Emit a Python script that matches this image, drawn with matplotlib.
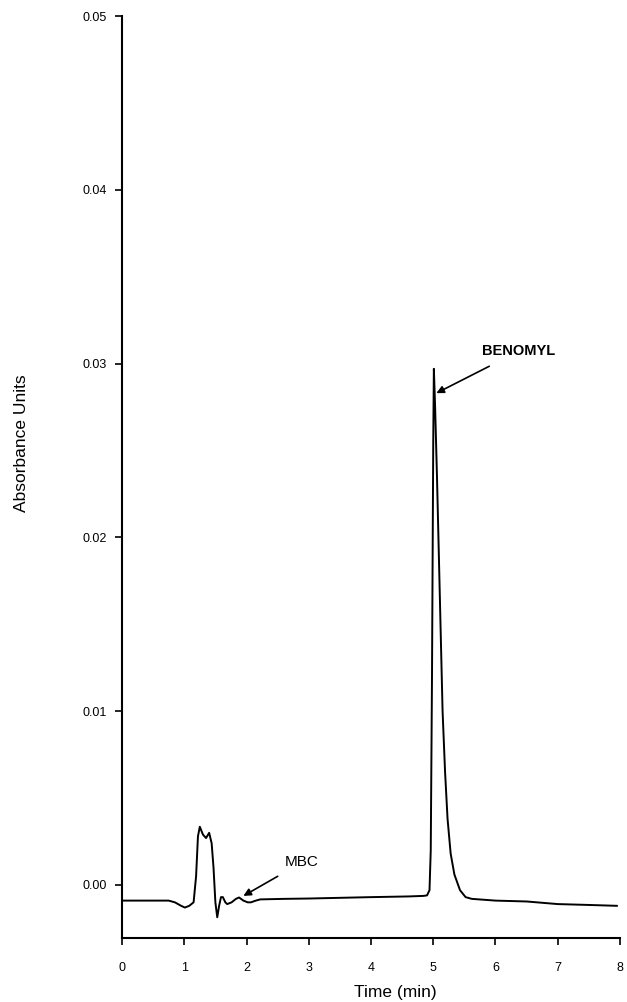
import numpy as np
import matplotlib.pyplot as plt

plt.rcParams['font.family'] = ['Liberation Sans', 'DejaVu Sans']

# chromatogram trace (time in min, absorbance)
time = [0.0, 0.5, 0.75, 0.85, 0.95, 1.01, 1.08, 1.15, 1.19, 1.22, 1.25, 1.30, 1.35,
        1.40, 1.44, 1.47, 1.50, 1.53, 1.56, 1.59, 1.62, 1.66, 1.69, 1.76, 1.83, 1.88,
        1.95, 2.02, 2.07, 2.15, 2.22, 2.6, 3.0, 3.5, 4.0, 4.3, 4.6, 4.84, 4.90, 4.94,
        4.96, 4.98, 5.00, 5.01, 5.03, 5.06, 5.09, 5.12, 5.15, 5.19, 5.23, 5.28, 5.34,
        5.43, 5.52, 5.62, 6.0, 6.5, 7.0, 7.5, 7.95]
absorb = [-0.0009, -0.0009, -0.0009, -0.0010, -0.0012, -0.0013, -0.0012, -0.0010, 0.0005,
          0.0028, 0.00335, 0.0029, 0.0027, 0.0030, 0.0024, 0.0010, -0.0010, -0.00186,
          -0.0012, -0.0007, -0.0007, -0.0010, -0.0011, -0.0010, -0.0008, -0.00072,
          -0.0009, -0.0010, -0.0010, -0.0009, -0.00083, -0.0008, -0.00078, -0.00074,
          -0.0007, -0.00068, -0.00066, -0.00063, -0.0006, -0.0003, 0.002, 0.012, 0.0255,
          0.0297, 0.0275, 0.0235, 0.019, 0.0145, 0.010, 0.0065, 0.0038, 0.0018, 0.0006,
          -0.0003, -0.0007, -0.0008, -0.0009, -0.00095, -0.0011, -0.00115, -0.0012]

x_ticks = [0, 1, 2, 3, 4, 5, 6, 7, 8]
y_ticks = [0.00, 0.01, 0.02, 0.03, 0.04, 0.05]

fig = plt.figure(figsize=(6.27, 10.02), dpi=100)
ax = fig.add_axes([0.1946, 0.0639, 0.7942, 0.9201])

ax.plot(time, absorb, color='black', lw=1.4)

ax.set_xlim(0, 8)
ax.set_ylim(-0.00305, 0.05)
ax.set_xticks(x_ticks)
ax.set_yticks(y_ticks)
ax.set_yticklabels([f'{v:.2f}' for v in y_ticks])
ax.tick_params(labelsize=9, length=5, width=1.2, direction='out')
ax.tick_params(axis='x', pad=12)
ax.tick_params(axis='y', pad=6)

ax.spines['top'].set_visible(False)
ax.spines['right'].set_visible(False)
ax.spines['left'].set_linewidth(1.5)
ax.spines['bottom'].set_linewidth(1.5)

ax.set_xlabel('Time (min)', fontsize=12.5)
ax.xaxis.set_label_coords(0.548, -0.051)
ax.set_ylabel('Absorbance Units', fontsize=12.5)
ax.yaxis.set_label_coords(-0.187, 0.537)

ax.annotate('BENOMYL', xy=(5.05, 0.0283), xytext=(5.78, 0.0307),
            fontsize=10.5, fontweight='bold', va='center',
            arrowprops=dict(arrowstyle='-|>', color='black', lw=1.2,
                            shrinkA=8, shrinkB=0, mutation_scale=11))
ax.annotate('MBC', xy=(1.95, -0.00063), xytext=(2.62, 0.0013),
            fontsize=11, va='center',
            arrowprops=dict(arrowstyle='-|>', color='black', lw=1.2,
                            shrinkA=6, shrinkB=0, mutation_scale=11))

fig.savefig('out.png', dpi=100)
plt.close(fig)
